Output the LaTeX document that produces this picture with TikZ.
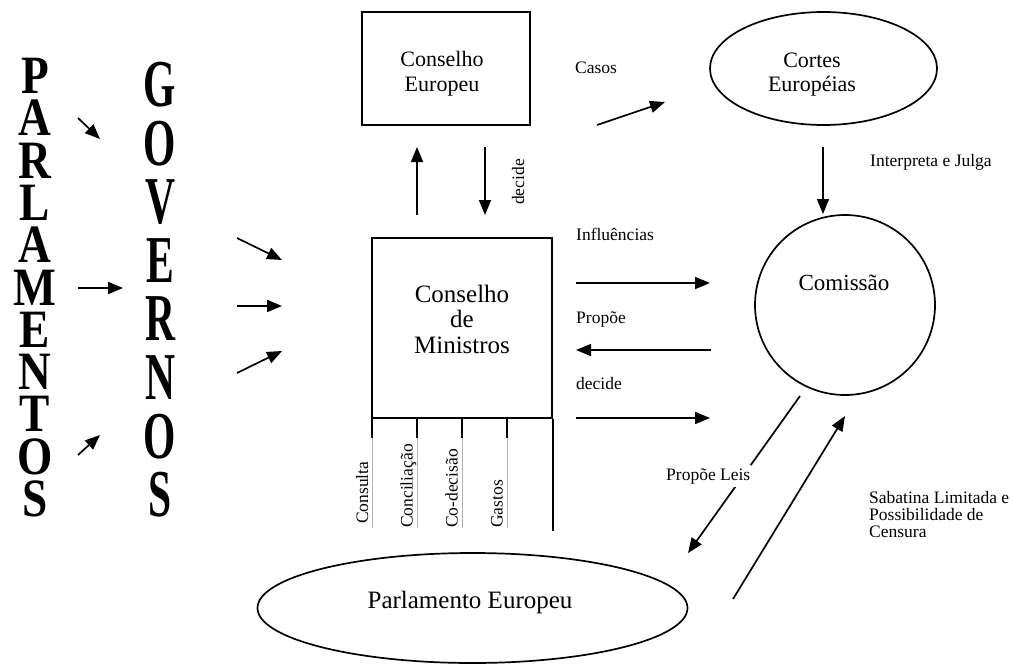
\documentclass[tikz,border=0pt]{standalone}
\usepackage{fontspec}
\setmainfont{Liberation Serif}
\usetikzlibrary{shapes.geometric,arrows.meta}
\begin{document}
\begin{tikzpicture}[x=1pt,y=-1pt,
  shape line/.style={line width=1.7pt},
  arr/.style={line width=1.7pt,-{Triangle[length=15pt,width=12pt]}},
  lbl/.style={inner sep=0pt,anchor=base west,font=\fontsize{17.5}{17.5}\selectfont},
  vlbl/.style={lbl,rotate=90},
  bigtxt/.style={inner sep=0pt,anchor=base,font=\fontsize{#1}{#1}\selectfont},
  letP/.style={inner sep=0pt,anchor=base,font=\fontsize{54}{54}\selectfont\bfseries},
  letG/.style={inner sep=0pt,anchor=base,font=\fontsize{67}{67}\selectfont\bfseries},
  grid line/.style={line width=0.6pt,black!30},
]
\useasboundingbox (0,0) rectangle (1014,664);

% ---- vertical words ----
\foreach \l [count=\i from 0] in {P,A,R,L,A,M,E,N,T,O,S}
  \node[letP] (par\i) at (35,{93.5+42.3*\i}) {\scalebox{0.84}[1]{\l}};
\foreach \l [count=\i from 0] in {G,O,V,E,R,N,O,S}
  \node[letG] (gov\i) at (160,{106.5+58.6*\i}) {\scalebox{0.62}[1]{\l}};

% ---- shapes ----
\node[draw,shape line,minimum width=168pt,minimum height=113pt,inner sep=0pt] (ce) at (446,68.5) {};
\node[bigtxt=22] (ceT1) at (442,66.5) {Conselho};
\node[bigtxt=22] (ceT2) at (442,91) {Europeu};

\node[draw,shape line,minimum width=180pt,minimum height=180pt,inner sep=0pt] (cm) at (462,328) {};
\node[bigtxt=25] (cmT1) at (462,302) {Conselho};
\node[bigtxt=25] (cmT2) at (462,327.5) {de};
\node[bigtxt=25] (cmT3) at (462,353) {Ministros};

% table under Conselho de Ministros
\coordinate (t0) at (372,418);
\coordinate (t1) at (417,418);
\coordinate (t2) at (462,418);
\coordinate (t3) at (507,418);
\foreach \k in {0,1,2,3}{
  \draw[grid line] (t\k) ++(0,20) -- ++(0,90);
  \draw[shape line] (t\k) -- ++(0,20);
}
\draw[shape line] (cm.south east) -- ++(0,112);
\node[vlbl] (vc1) at (368,524) {Consulta};
\node[vlbl] (vc2) at (412.5,528) {Conciliação};
\node[vlbl] (vc3) at (457.5,528) {Co-decisão};
\node[vlbl] (vc4) at (502.5,528) {Gastos};

\node[draw,shape line,ellipse,minimum width=227pt,minimum height=113pt,inner sep=0pt] (ct) at (823.5,68.5) {};
\node[bigtxt=22] (ctT1) at (812,67) {Cortes};
\node[bigtxt=22] (ctT2) at (812,91.5) {Européias};

\node[draw,shape line,circle,minimum size=180pt,inner sep=0pt] (co) at (845,305) {};
\node[bigtxt=23] (coT) at (844,290) {Comissão};

\node[draw,shape line,ellipse,minimum width=430pt,minimum height=110pt,inner sep=0pt] (pe) at (472.5,608) {};
\node[bigtxt=25] (peT) at (470,608) {Parlamento Europeu};

% ---- arrows ----
\coordinate (a1s) at (78,118);  \coordinate (a1e) at (100,139);
\coordinate (a2s) at (78,288);  \coordinate (a2e) at (123,288);
\coordinate (a3s) at (78,455);  \coordinate (a3e) at (100,435);
\coordinate (b1s) at (237,238); \coordinate (b1e) at (282,260);
\coordinate (b2s) at (237,306); \coordinate (b2e) at (282,306);
\coordinate (b3s) at (237,373); \coordinate (b3e) at (282,351);
\coordinate (ups) at (417,215); \coordinate (upe) at (417,147);
\coordinate (dns) at (485,147); \coordinate (dne) at (485,215);
\coordinate (cas) at (597,125); \coordinate (cae) at (665,102);
\coordinate (ins) at (823,147); \coordinate (ine) at (823,214);
\coordinate (ifs) at (576,283); \coordinate (ife) at (710,283);
\coordinate (prs) at (711,350); \coordinate (pre) at (576,350);
\coordinate (des) at (576,418); \coordinate (dee) at (710,418);
\coordinate (pls) at (800,396); \coordinate (ple) at (688,553);
\coordinate (sas) at (733,599); \coordinate (sae) at (845,416);

\foreach \s/\e in {a1s/a1e,a2s/a2e,a3s/a3e,b1s/b1e,b2s/b2e,b3s/b3e,ups/upe,dns/dne,cas/cae,ins/ine,ifs/ife,prs/pre,des/dee,pls/ple,sas/sae}
  \draw[arr] (\s) -- (\e);

% ---- labels ----
\node[lbl] (lcasos) at (575,73) {Casos};
\node[lbl] (linter) at (870,166) {Interpreta e Julga};
\node[lbl] (linfl) at (576,240) {Influências};
\node[lbl] (lprop) at (576,323) {Propõe};
\node[lbl] (ldec) at (576,389) {decide};
\node[vlbl,anchor=base] (ldecv) at (524,182) {decide};
\node[lbl,fill=white,inner ysep=3pt,inner xsep=1pt] (lpl) at (665,480) {Propõe Leis};
\node[lbl] (ls1) at (869,503) {Sabatina Limitada e};
\node[lbl] (ls2) at (869,520) {Possibilidade de};
\node[lbl] (ls3) at (869,537) {Censura};
\end{tikzpicture}
\end{document}
